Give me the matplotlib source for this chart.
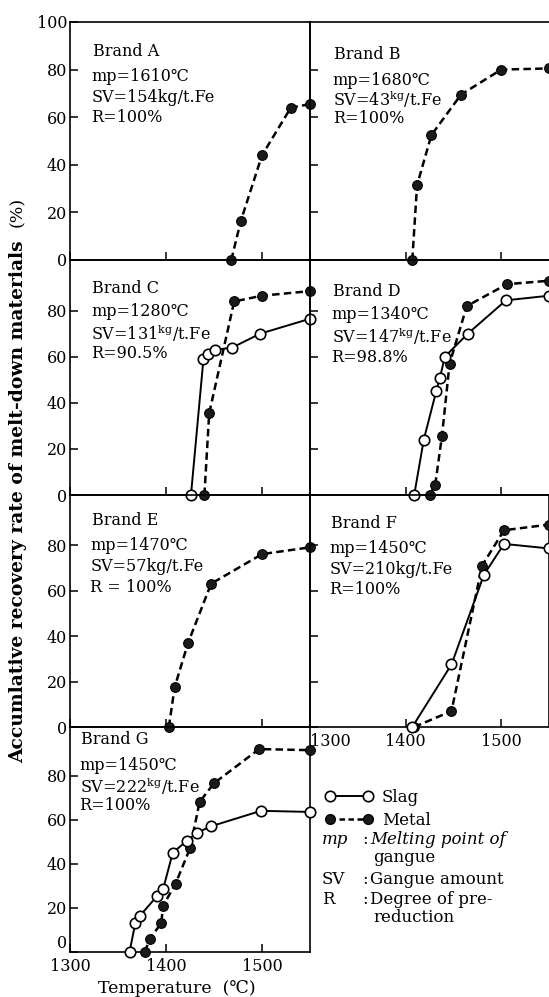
import matplotlib
matplotlib.use("Agg")
import matplotlib.pyplot as plt
from matplotlib.lines import Line2D

plt.rcParams['font.family'] = ['DejaVu Serif', 'DejaVu Sans']
plt.rcParams['mathtext.fontset'] = 'dejavuserif'

# ---------------- data ----------------
A_metal_T = [1468, 1478, 1500, 1530, 1550]
A_metal = [0, 16.5, 44, 64, 65.5]

B_metal_T = [1407, 1412, 1427, 1458, 1500, 1550]
B_metal = [0, 31.5, 52.5, 69.5, 80, 80.5]

C_slag_T = [1426, 1439, 1444, 1451, 1469, 1498, 1550]
C_slag = [0, 59, 61, 63, 64, 70, 76.5]
C_metal_T = [1440, 1445, 1471, 1500, 1550]
C_metal = [0, 35.5, 84, 86.5, 88.5]

D_slag_T = [1409, 1419, 1432, 1436, 1441, 1465, 1505, 1550]
D_slag = [0, 24, 45, 51, 60, 70, 84.5, 86.5]
D_metal_T = [1425, 1431, 1438, 1446, 1464, 1506, 1550]
D_metal = [0, 4.5, 25.5, 57, 82, 91.5, 93]

E_metal_T = [1403, 1409, 1423, 1447, 1500, 1550]
E_metal = [0, 17.5, 37, 63, 76, 79]

F_slag_T = [1407, 1448, 1482, 1503, 1550]
F_slag = [0, 27.5, 67, 80.5, 78.5]
F_metal_T = [1409, 1448, 1480, 1503, 1550]
F_metal = [0, 7, 71, 86.5, 89]

G_slag_T = [1362, 1368, 1373, 1391, 1397, 1407, 1422, 1432, 1447, 1499, 1550]
G_slag = [0, 13, 16.5, 25.5, 28.5, 45, 50.5, 54, 57, 64, 63.5]
G_metal_T = [1378, 1383, 1395, 1397, 1410, 1425, 1435, 1450, 1497, 1550]
G_metal = [0, 6, 13, 21, 31, 47, 68, 76.5, 92, 91.5]

brands = ["Brand A", "Brand B", "Brand C", "Brand D", "Brand E", "Brand F", "Brand G"]
mp_texts = ["mp=1610℃", "mp=1680℃", "mp=1280℃", "mp=1340℃", "mp=1470℃", "mp=1450℃", "mp=1450℃"]
sv_texts = ["SV=154kg/t.Fe", r"SV=43$^{\mathrm{kg}}$/t.Fe", r"SV=131$^{\mathrm{kg}}$/t.Fe",
            r"SV=147$^{\mathrm{kg}}$/t.Fe", "SV=57kg/t.Fe", "SV=210kg/t.Fe",
            r"SV=222$^{\mathrm{kg}}$/t.Fe"]
r_texts = ["R=100%", "R=100%", "R=90.5%", "R=98.8%", "R = 100%", "R=100%", "R=100%"]

x_ticks = [1300, 1400, 1500]
y_ticks = [0, 20, 40, 60, 80]
y_ticks_top = [0, 20, 40, 60, 80, 100]

# ---------------- layout ----------------
W, H = 549, 997
fig = plt.figure(figsize=(W / 100, H / 100), dpi=100)

rows = [(22, 260), (260, 495), (495, 727), (727, 952)]
cols = [(70, 310), (310, 549)]


def make_ax(col, row):
    x0, x1 = cols[col]
    y0, y1 = rows[row]
    return fig.add_axes([x0 / W, 1 - y1 / H, (x1 - x0) / W, (y1 - y0) / H])


slag_kw = dict(color='black', lw=1.4, ls='-', marker='o', ms=7.5, mfc='white',
               mec='black', mew=1.2, zorder=4, clip_on=False)
metal_kw = dict(color='black', lw=1.8, ls=(0, (3.0, 1.7)), marker='o', ms=7,
                mfc='#1a1a1a', mec='black', mew=0.8, zorder=3, clip_on=False)

panels = [
    # (col, row, metal, slag, text x, text y's [brand, mp, sv, r])
    (0, 0, (A_metal_T, A_metal), None, 0.09, [0.875, 0.772, 0.682, 0.598]),
    (1, 0, (B_metal_T, B_metal), None, 0.095, [0.862, 0.756, 0.675, 0.595]),
    (0, 1, (C_metal_T, C_metal), (C_slag_T, C_slag), 0.088, [0.880, 0.780, 0.688, 0.603]),
    (1, 1, (D_metal_T, D_metal), (D_slag_T, D_slag), 0.09, [0.866, 0.766, 0.674, 0.586]),
    (0, 2, (E_metal_T, E_metal), None, 0.085, [0.890, 0.782, 0.690, 0.602]),
    (1, 2, (F_metal_T, F_metal), (F_slag_T, F_slag), 0.082, [0.876, 0.770, 0.677, 0.594]),
    (0, 3, (G_metal_T, G_metal), (G_slag_T, G_slag), 0.04, [0.945, 0.831, 0.735, 0.649]),
]

txt_fs = 11.5
tick_fs = 11.5
for i, (col, row, metal, slag, tx, tys) in enumerate(panels):
    ax = make_ax(col, row)
    ax.set_xlim(1300, 1550)
    ax.set_ylim(0, 100 if row == 0 else 102)
    ax.patch.set_alpha(0)
    if slag is not None:
        ax.plot(slag[0], slag[1], **slag_kw)
    ax.plot(metal[0], metal[1], **metal_kw)

    for s in ax.spines.values():
        s.set_linewidth(1.2)
        s.set_color('black')
    if col == 1:
        ax.spines['right'].set_visible(row == 2)

    ax.set_xticks(x_ticks)
    ax.tick_params(axis='x', direction='in', length=6, width=1.1,
                   labelsize=tick_fs, pad=4)
    if col == 0:
        ax.set_yticks(y_ticks_top if row == 0 else y_ticks)
        ax.tick_params(axis='y', direction='in', length=6, width=1.1,
                       labelsize=tick_fs, pad=2)
    else:
        ax.set_yticks(y_ticks)
        ax.tick_params(axis='y', direction='in', length=6, width=1.1,
                       labelleft=False)

    bottom_row = (col == 0 and row == 3) or (col == 1 and row == 2)
    if not bottom_row:
        ax.tick_params(axis='x', labelbottom=False)
    elif col == 1:
        labs = ax.get_xticklabels()
        labs[0].set_horizontalalignment('left')
    else:
        ylabs = ax.get_yticklabels()
        ylabs[0].set_verticalalignment('bottom')

    ax.text(tx + 0.005, tys[0], brands[i], transform=ax.transAxes,
            fontsize=txt_fs, va='center', ha='left')
    ax.text(tx, tys[1], mp_texts[i], transform=ax.transAxes,
            fontsize=txt_fs, va='center', ha='left')
    ax.text(tx, tys[2], sv_texts[i], transform=ax.transAxes,
            fontsize=txt_fs, va='center', ha='left')
    ax.text(tx, tys[3], r_texts[i], transform=ax.transAxes,
            fontsize=txt_fs, va='center', ha='left')

# ---------------- axis titles ----------------
fig.text(18 / W, 1 - 502 / H, "Accumlative recovery rate of melt-down materials",
         rotation=90, ha='center', va='center', fontsize=13.5, weight='semibold')
fig.text(18 / W, 1 - 212 / H, "(%)", rotation=90, ha='center', va='center',
         fontsize=12.5)
fig.text(177 / W, 1 - 988 / H, "Temperature  (℃)", ha='center', va='center',
         fontsize=12.5)

# ---------------- legend ----------------
handles = [
    Line2D([], [], color='black', lw=1.4, marker='o', ms=7.5, mfc='white', mec='black', mew=1.2),
    Line2D([], [], color='black', lw=1.8, ls=(0, (2.2, 1.4)), marker='o', ms=7,
           mfc='#1a1a1a', mec='black'),
]
fig.legend(handles, ["Slag", "Metal"], loc='upper left',
           bbox_to_anchor=(325 / W, 1 - 789 / H), frameon=False, numpoints=2,
           handlelength=2.9, handletextpad=0.5, labelspacing=0.35,
           fontsize=12, borderaxespad=0, borderpad=0)

lx1, lx2, lx3 = 322 / W, 362 / W, 370 / W
def_fs = 12
fig.text(lx1, 1 - 840 / H, "mp", fontsize=def_fs, style='italic', va='center')
fig.text(lx2, 1 - 840 / H, ":", fontsize=def_fs, va='center')
fig.text(lx3, 1 - 840 / H, "Melting point of", fontsize=def_fs, style='italic', va='center')
fig.text(lx3 + 3 / W, 1 - 858 / H, "gangue", fontsize=def_fs, va='center')
fig.text(lx1, 1 - 879 / H, "SV", fontsize=def_fs, va='center')
fig.text(lx2, 1 - 879 / H, ":", fontsize=def_fs, va='center')
fig.text(lx3, 1 - 879 / H, "Gangue amount", fontsize=def_fs, va='center')
fig.text(lx1, 1 - 900 / H, "R", fontsize=def_fs, va='center')
fig.text(lx2, 1 - 900 / H, ":", fontsize=def_fs, va='center')
fig.text(lx3, 1 - 900 / H, "Degree of pre-", fontsize=def_fs, va='center')
fig.text(lx3 + 3 / W, 1 - 918 / H, "reduction", fontsize=def_fs, va='center')

fig.savefig("out.png", dpi=100)
